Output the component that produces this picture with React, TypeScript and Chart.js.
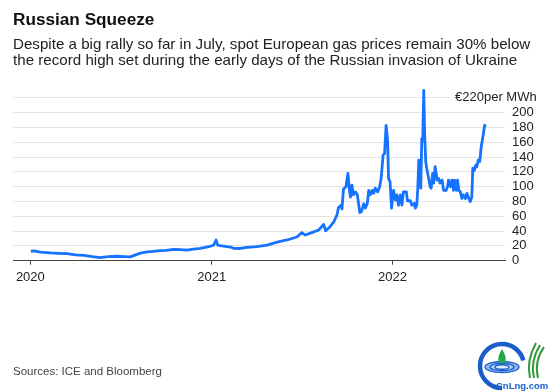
import React, { useEffect, useRef } from "react";
import { Chart, registerables } from "chart.js";

Chart.register(...registerables);

const FONT = "'Liberation Sans', Arial, Helvetica, sans-serif";

const TITLE = "Russian Squeeze";
const SUBTITLE_LINES = [
  "Despite a big rally so far in July, spot European gas prices remain 30% below",
  "the record high set during the early days of the Russian invasion of Ukraine",
];
const SOURCE = "Sources: ICE and Bloomberg";
const UNIT_LABEL = "€220per MWh";
const LOGO_TEXT = "CnLng.com";

const dates = [
  "2020-01-02", "2020-01-08", "2020-01-21", "2020-02-10", "2020-02-27", "2020-03-15",
  "2020-04-01", "2020-04-18", "2020-05-05", "2020-05-21", "2020-06-06", "2020-06-24",
  "2020-07-09", "2020-07-21", "2020-08-03", "2020-08-12", "2020-08-24", "2020-09-05",
  "2020-09-19", "2020-10-01", "2020-10-16", "2020-10-30", "2020-11-12", "2020-11-25",
  "2020-12-09", "2020-12-19", "2020-12-29",
  "2021-01-05", "2021-01-10", "2021-01-13", "2021-01-18", "2021-02-01", "2021-02-08",
  "2021-02-14", "2021-02-28", "2021-03-13", "2021-04-02", "2021-04-23", "2021-05-13",
  "2021-06-02", "2021-06-22", "2021-07-02", "2021-07-09", "2021-07-26", "2021-08-05",
  "2021-08-15", "2021-08-19", "2021-08-28", "2021-09-04", "2021-09-11", "2021-09-14",
  "2021-09-19", "2021-09-21", "2021-09-24", "2021-09-29", "2021-10-03", "2021-10-06",
  "2021-10-08", "2021-10-11", "2021-10-14", "2021-10-18", "2021-10-22", "2021-10-27",
  "2021-10-30", "2021-11-04", "2021-11-07", "2021-11-11", "2021-11-14", "2021-11-17",
  "2021-11-21", "2021-11-24", "2021-11-27", "2021-12-02", "2021-12-06", "2021-12-09",
  "2021-12-13", "2021-12-16", "2021-12-19", "2021-12-22", "2021-12-24", "2021-12-27",
  "2021-12-30",
  "2022-01-03", "2022-01-07", "2022-01-10", "2022-01-13", "2022-01-17", "2022-01-20",
  "2022-01-23", "2022-01-29", "2022-01-31", "2022-02-06", "2022-02-09", "2022-02-14",
  "2022-02-16", "2022-02-19", "2022-02-21", "2022-02-23", "2022-02-26", "2022-02-27",
  "2022-03-01", "2022-03-03", "2022-03-05", "2022-03-07", "2022-03-09", "2022-03-11",
  "2022-03-15", "2022-03-18", "2022-03-20", "2022-03-23", "2022-03-25", "2022-03-28",
  "2022-04-01", "2022-04-04", "2022-04-07", "2022-04-11", "2022-04-14", "2022-04-19",
  "2022-04-22", "2022-04-24", "2022-04-28", "2022-05-01", "2022-05-04", "2022-05-06",
  "2022-05-10", "2022-05-12", "2022-05-15", "2022-05-18", "2022-05-21", "2022-05-24",
  "2022-05-28", "2022-05-31", "2022-06-04", "2022-06-07", "2022-06-10", "2022-06-12",
  "2022-06-15", "2022-06-18", "2022-06-20", "2022-06-23", "2022-06-26", "2022-06-29",
  "2022-07-03", "2022-07-06", "2022-07-08",
];

const prices = [
  12.5, 13.2, 11.5, 10.5, 10, 9.5,
  8, 7.2, 5.5, 4.3, 5.5, 6,
  5.5, 5.2, 8.5, 10.5, 12, 12.5,
  13.5, 14, 15.4, 15, 14.3, 15.5,
  16.7, 18, 19.5,
  21, 28, 21, 20.5, 19, 18.5,
  16.7, 16.5, 18, 19, 21, 25,
  28, 32, 38, 34.7, 39, 41.5,
  49, 40.5, 46, 52, 62, 72,
  75, 70, 97, 100, 118, 95,
  86, 102, 89, 93, 89, 65,
  66, 77, 71, 77, 95, 89,
  95, 91, 98, 93, 100, 111,
  143, 145, 183, 163, 111, 107,
  71,
  95, 82, 89, 75, 89, 75,
  93, 93, 81, 81, 75, 77.5,
  71, 75, 98, 136, 134, 98,
  165, 163, 230, 168, 134, 125,
  111, 100, 98, 118, 105, 127,
  109, 111, 105, 109, 95, 95,
  100, 109, 100, 109, 95, 109,
  95, 109, 95, 93, 84, 89,
  84, 91, 84, 80, 86, 125,
  122, 129, 127, 136, 134, 154,
  170, 183, 181,
];

const yTickValues = [0, 20, 40, 60, 80, 100, 120, 140, 160, 180, 200, 220];
const yearTicks = ["2020-01-01", "2021-01-01", "2022-01-01"];
const X_MIN = "2019-11-27";
const X_MAX = "2022-08-16";
const Y_MAX = 230;

function drawLogo(ctx: CanvasRenderingContext2D) {
  const cx = 502;
  const cy = 366;
  ctx.save();
  const grad = ctx.createRadialGradient(cx, cy + 1, 1, cx, cy + 1, 17);
  grad.addColorStop(0, "#e8f1ff");
  grad.addColorStop(1, "#7fb0f0");
  ctx.fillStyle = grad;
  ctx.beginPath();
  ctx.ellipse(cx, cy + 1, 17, 5.5, 0, 0, Math.PI * 2);
  ctx.fill();
  ctx.strokeStyle = "#1a5fc8";
  ctx.lineWidth = 1.4;
  const rings: number[][] = [[17, 5.5], [12, 3.8], [7, 2.2]];
  for (const [rx, ry] of rings) {
    ctx.beginPath();
    ctx.ellipse(cx, cy + 1, rx, ry, 0, 0, Math.PI * 2);
    ctx.stroke();
  }
  ctx.lineWidth = 4.5;
  ctx.beginPath();
  ctx.arc(cx, cy, 22, 0.5 * Math.PI, 1.92 * Math.PI);
  ctx.stroke();
  ctx.fillStyle = "#25a845";
  ctx.beginPath();
  ctx.moveTo(cx, cy - 17);
  ctx.bezierCurveTo(cx + 5, cy - 9, cx + 5, cy - 3, cx, cy - 2.5);
  ctx.bezierCurveTo(cx - 5, cy - 3, cx - 5, cy - 9, cx, cy - 17);
  ctx.fill();
  ctx.strokeStyle = "#2f9a3a";
  ctx.lineWidth = 2;
  for (let i = 0; i < 3; i++) {
    ctx.beginPath();
    ctx.moveTo(530 + i * 4, 378);
    ctx.quadraticCurveTo(526 + i * 4, 361, 536 + i * 4, 343 + i * 2);
    ctx.stroke();
  }
  ctx.fillStyle = "#1a5fc8";
  ctx.font = `bold 9.5px ${FONT}`;
  ctx.textBaseline = "alphabetic";
  ctx.textAlign = "left";
  ctx.fillText(LOGO_TEXT, 496, 389);
  ctx.restore();
}

const textPlugin = {
  id: "bbgTexts",
  afterDraw(chart: any) {
    const ctx: CanvasRenderingContext2D = chart.ctx;
    ctx.save();
    ctx.textAlign = "left";
    ctx.textBaseline = "alphabetic";
    ctx.fillStyle = "#111";
    ctx.font = `bold 17.2px ${FONT}`;
    ctx.fillText(TITLE, 13, 25);
    ctx.fillStyle = "#222";
    ctx.font = `15.15px ${FONT}`;
    ctx.fillText(SUBTITLE_LINES[0], 13, 48.5);
    ctx.fillText(SUBTITLE_LINES[1], 13, 65);

    const y = chart.scales.y.getPixelForValue(220);
    ctx.fillStyle = "#fff";
    ctx.fillRect(451, y - 8, 97, 16);
    ctx.fillStyle = "#222";
    ctx.font = `13px ${FONT}`;
    ctx.textBaseline = "middle";
    ctx.fillText(UNIT_LABEL, 455, y);

    ctx.textBaseline = "alphabetic";
    ctx.fillStyle = "#444";
    ctx.font = `11.5px ${FONT}`;
    ctx.fillText(SOURCE, 13, 375);

    drawLogo(ctx);
    ctx.restore();
  },
};

export default function App() {
  const canvasRef = useRef<HTMLCanvasElement | null>(null);

  useEffect(() => {
    document.body.style.margin = "0";
    const canvas = canvasRef.current;
    if (!canvas) return;
    const points = dates.map((d, i) => ({ x: Date.parse(d), y: prices[i] }));
    const chart = new Chart(canvas, {
      type: "line",
      data: {
        datasets: [
          {
            data: points,
            borderColor: "#1673ff",
            borderWidth: 2.8,
            pointRadius: 0,
            tension: 0,
            borderJoinStyle: "round",
            clip: false as any,
          },
        ],
      },
      options: {
        animation: false,
        responsive: false,
        devicePixelRatio: 1,
        layout: { padding: { left: 13, right: 0, top: 90.5, bottom: 101.3 } },
        plugins: {
          legend: { display: false },
          tooltip: { enabled: false },
          title: { display: false },
        },
        scales: {
          x: {
            type: "linear",
            min: Date.parse(X_MIN),
            max: Date.parse(X_MAX),
            afterBuildTicks: (scale: any) => {
              scale.ticks = yearTicks.map((d) => ({ value: Date.parse(d) }));
            },
            afterFit: (scale: any) => {
              scale.height = 30;
            },
            grid: {
              drawOnChartArea: false,
              drawTicks: true,
              tickLength: 4,
              tickColor: "#444",
              color: "#444",
            },
            border: { display: true, color: "#444", width: 1 },
            ticks: {
              autoSkip: false,
              maxRotation: 0,
              padding: 5,
              color: "#222",
              font: { family: FONT, size: 13 },
              callback: (v: any) => String(new Date(Number(v)).getUTCFullYear()),
            },
          },
          y: {
            position: "right",
            min: 0,
            max: Y_MAX,
            afterBuildTicks: (scale: any) => {
              scale.ticks = yTickValues.map((v) => ({ value: v }));
            },
            afterFit: (scale: any) => {
              scale.width = 45;
            },
            grid: { color: "#e4e4e4", drawTicks: false, lineWidth: 1 },
            border: { display: false },
            ticks: {
              autoSkip: false,
              padding: 7,
              color: "#222",
              font: { family: FONT, size: 13 },
              callback: (v: any) => (Number(v) === 220 ? "" : String(v)),
            },
          },
        },
      },
      plugins: [textPlugin],
    } as any);
    return () => chart.destroy();
  }, []);

  return (
    <div style={{ width: 550, height: 392, background: "#fff" }}>
      <canvas ref={canvasRef} width={550} height={392} style={{ display: "block" }} />
    </div>
  );
}
